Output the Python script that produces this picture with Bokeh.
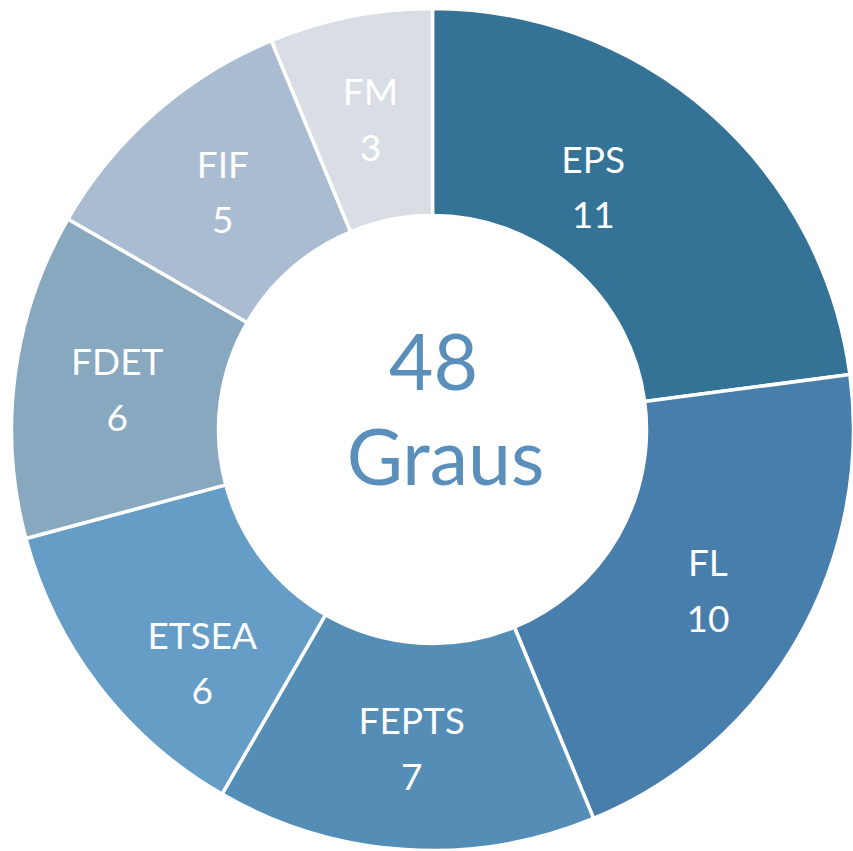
import math
from bokeh.plotting import figure
from bokeh.models import Range1d, ColumnDataSource
from bokeh.core.properties import value
from bokeh.embed import file_html
from bokeh.resources import INLINE

# ---- data ----
categories = ["EPS", "FL", "FEPTS", "ETSEA", "FDET", "FIF", "FM"]
counts = [11, 10, 7, 6, 6, 5, 3]
center_number = "48"
center_word = "Graus"

# ---- style ----
colors = ["#347296", "#477eab", "#548db5", "#659dc6", "#88a8bf", "#a9bcd1", "#d9dee5"]
center_color = "#5a8fbb"
FONT = "Lato"
W, H = 853, 851
CX, CY = 432, 422
R_OUT, R_IN = 421, 214
LABEL_R = 318
label_nudge = {"EPS": (-49, 5), "ETSEA": (22, -38)}

total = sum(counts)
starts, ends, mids = [], [], []
cum = 0
for c in counts:
    a0 = math.pi / 2 - 2 * math.pi * cum / total
    cum += c
    a1 = math.pi / 2 - 2 * math.pi * cum / total
    starts.append(a0)
    ends.append(a1)
    mids.append((a0 + a1) / 2)

lx, ly = [], []
for cat, m in zip(categories, mids):
    dx, dy = label_nudge.get(cat, (0, 0))
    lx.append(CX + LABEL_R * math.cos(m) + dx)
    ly.append(CY + LABEL_R * math.sin(m) + dy)

src = ColumnDataSource(dict(
    cat=categories, val=[str(c) for c in counts], color=colors,
    start=starts, end=ends, x=[CX] * len(counts), y=[CY] * len(counts),
    lx=lx, ly_name=[v + 27 for v in ly], ly_val=[v - 30 for v in ly],
))

p = figure(width=W, height=H, output_backend="svg", toolbar_location=None,
           x_range=Range1d(0, W), y_range=Range1d(0, H), min_border=0)
p.axis.visible = False
p.grid.visible = False
p.outline_line_color = None
p.background_fill_color = "white"
p.border_fill_color = "white"

p.annular_wedge(x="x", y="y", inner_radius=R_IN, outer_radius=R_OUT,
                start_angle="start", end_angle="end", direction="clock",
                fill_color="color", line_color="white", line_width=3.5, source=src)

p.text(x="lx", y="ly_name", text="cat", text_align="center", text_baseline="alphabetic",
       text_color="white", text_font=value(FONT), text_font_size="37px", source=src)
p.text(x="lx", y="ly_val", text="val", text_align="center", text_baseline="alphabetic",
       text_color="white", text_font=value(FONT), text_font_size="37px", source=src)

p.text(x=[CX + 1], y=[CY + 68], text=[center_number], text_align="center",
       text_baseline="alphabetic", text_color=center_color, text_font=value(FONT),
       text_font_size="77px")
p.text(x=[CX + 13], y=[CY - 25], text=[center_word], text_align="center",
       text_baseline="alphabetic", text_color=center_color, text_font=value(FONT),
       text_font_size="77px")

open("out.html", "w").write(file_html(p, INLINE))
